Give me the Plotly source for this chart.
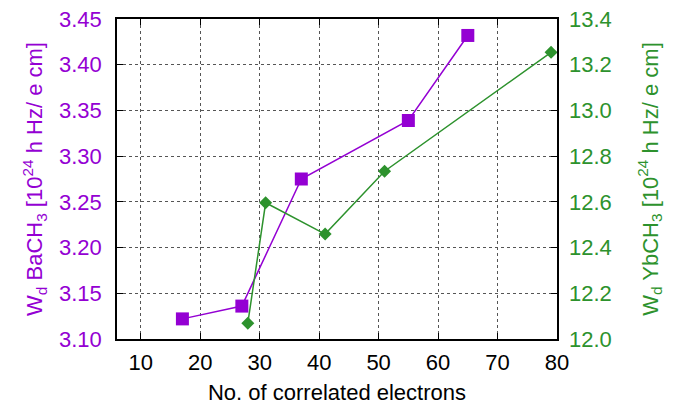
import plotly.graph_objects as go

# Data
ba_electrons = [17, 27, 37, 55, 65]
ba_wd = [3.122, 3.136, 3.275, 3.339, 3.432]
yb_electrons = [28, 31, 41, 51, 79]
yb_wd = [12.069, 12.596, 12.459, 12.734, 13.254]

x_ticks = [10, 20, 30, 40, 50, 60, 70, 80]
y1_ticks = [3.10, 3.15, 3.20, 3.25, 3.30, 3.35, 3.40, 3.45]
y2_ticks = [12.0, 12.2, 12.4, 12.6, 12.8, 13.0, 13.2, 13.4]

PURPLE = "#9400D3"
GREEN = "#2d922d"
FONT = "Liberation Sans, Arial, Helvetica, sans-serif"
FS = 22

fig = go.Figure()
fig.add_trace(go.Scatter(
    x=ba_electrons, y=ba_wd, mode="lines+markers",
    line=dict(color=PURPLE, width=1.5),
    marker=dict(symbol="square", size=13, color=PURPLE),
    yaxis="y", showlegend=False,
))
fig.add_trace(go.Scatter(
    x=yb_electrons, y=yb_wd, mode="lines+markers",
    line=dict(color=GREEN, width=1.5),
    marker=dict(symbol="diamond", size=10, color=GREEN),
    yaxis="y2", showlegend=False,
))

# page body has an 8px margin; compensate so the plot lands where the reference has it
fig.update_layout(
    width=674, height=397,
    margin=dict(l=109, r=125, t=11, b=66),
    paper_bgcolor="white", plot_bgcolor="white",
    font=dict(family=FONT, size=FS, color="black"),
    xaxis=dict(
        range=[6, 80], tickvals=x_ticks, ticktext=[str(v) for v in x_ticks],
        ticks="inside", ticklen=6, tickcolor="black",
        showline=True, linecolor="black", linewidth=1.5, mirror="ticks",
        showgrid=True, gridcolor="#555", griddash="dot", gridwidth=1,
        zeroline=False, automargin=False, ticklabeloverflow="allow",
        title=dict(text="No. of correlated electrons", font=dict(size=FS), standoff=10),
        tickfont=dict(size=FS),
        ticklabelstandoff=3,
    ),
    yaxis=dict(
        range=[3.10, 3.45], tickvals=y1_ticks, ticktext=[f"{v:.2f}" for v in y1_ticks],
        ticks="inside", ticklen=6, tickcolor="black",
        showline=True, linecolor="black", linewidth=1.5, mirror=True,
        showgrid=True, gridcolor="#555", griddash="dot", gridwidth=1,
        zeroline=False, automargin=False, ticklabeloverflow="allow",
        tickfont=dict(size=FS, color=PURPLE),
        ticklabelstandoff=9,
        title=dict(text="W<sub>d</sub> BaCH<sub>3</sub> [10<sup>24</sup> h Hz/ e cm]",
                   font=dict(size=FS, color=PURPLE), standoff=10),
    ),
    yaxis2=dict(
        range=[12.0, 13.4], tickvals=y2_ticks, ticktext=[f"{v:.1f}" for v in y2_ticks],
        overlaying="y", side="right",
        ticks="inside", ticklen=6, tickcolor="black",
        showline=False, showgrid=False, zeroline=False, automargin=False,
        ticklabeloverflow="allow",
        tickfont=dict(size=FS, color=GREEN),
        ticklabelstandoff=11,
        title=dict(text="W<sub>d</sub> YbCH<sub>3</sub> [10<sup>24</sup> h Hz/ e cm]",
                   font=dict(size=FS, color=GREEN), standoff=31),
    ),
)

fig.write_html("out.html")
